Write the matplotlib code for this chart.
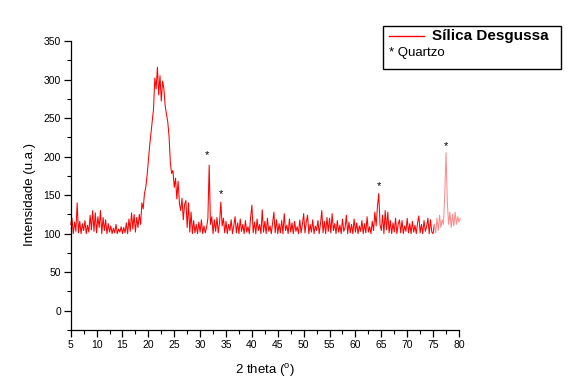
import numpy as np
import matplotlib
matplotlib.use("Agg")
import matplotlib.pyplot as plt
from matplotlib.lines import Line2D
from matplotlib.patches import Rectangle
from matplotlib.ticker import MultipleLocator

plt.rcParams['font.family'] = ['Liberation Sans', 'DejaVu Sans']

# 2-theta scan grid (degrees), step 0.25
theta_start, theta_step = 5.0, 0.25

intensity = [
    # 5.00 - 9.75
    112, 120, 100, 115, 103, 140, 101, 116, 100, 113, 104, 117, 100, 111, 102, 124, 105, 130, 103, 127,
    # 10.00 - 14.75
    101, 122, 108, 130, 100, 121, 104, 118, 100, 113, 102, 110, 100, 107, 101, 112, 100, 106, 102, 109,
    # 15.00 - 19.75
    100, 108, 101, 114, 100, 119, 103, 127, 106, 125, 102, 121, 108, 125, 112, 140, 132, 152, 160, 175,
    # 20.00 - 24.75
    195, 214, 230, 245, 262, 302, 288, 316, 280, 305, 272, 298, 288, 266, 255, 245, 226, 192, 178, 182,
    # 25.00 - 29.75
    160, 172, 145, 168, 139, 130, 146, 118, 138, 143, 108, 140, 102, 128, 100, 117, 101, 112, 100, 115,
    # 30.00 - 34.75
    102, 118, 100, 110, 101, 108, 120, 189, 112, 122, 100, 118, 103, 121, 101, 114, 141, 110, 120, 101,
    # 35.00 - 39.75
    116, 100, 112, 104, 118, 100, 110, 122, 101, 114, 100, 119, 103, 112, 100, 117, 102, 109, 100, 121,
    # 40.00 - 44.75
    137, 101, 115, 100, 119, 104, 112, 100, 131, 102, 116, 100, 120, 103, 110, 100, 114, 128, 101, 118,
    # 45.00 - 49.75
    100, 113, 101, 117, 100, 126, 104, 111, 100, 119, 102, 114, 100, 116, 103, 109, 100, 118, 101, 112,
    # 50.00 - 54.75
    126, 101, 115, 124, 100, 112, 102, 118, 100, 110, 104, 117, 100, 113, 130, 101, 116, 100, 121, 103,
    # 55.00 - 59.75
    120, 101, 126, 104, 113, 100, 117, 102, 111, 100, 119, 103, 108, 124, 100, 115, 101, 112, 100, 119,
    # 60.00 - 64.75
    102, 114, 100, 110, 103, 117, 100, 113, 101, 122, 102, 109, 100, 116, 104, 128, 110, 135, 152, 112,
    # 65.00 - 69.75
    104, 124, 100, 130, 105, 128, 101, 117, 100, 114, 102, 120, 100, 112, 118, 101, 117, 100, 110, 103,
    # 70.00 - 74.75
    120, 101, 113, 100, 116, 102, 111, 100, 114, 123, 101, 112, 100, 117, 103, 109, 120, 100, 118, 102,
    # 75.00 - 79.75
    100, 112, 101, 120, 104, 124, 108, 118, 112, 150, 205, 141, 112, 128, 108, 125, 110, 128, 112, 122,
    # 80.00 - 80.25
    115, 120,
]

# Quartz reflections marked with '*': (2theta, label height)
quartz_theta = [31.4, 34.0, 64.5, 77.5]
quartz_height = [202, 152, 162, 213]

x_ticks = [5, 10, 15, 20, 25, 30, 35, 40, 45, 50, 55, 60, 65, 70, 75, 80]
y_ticks = [0, 50, 100, 150, 200, 250, 300, 350]

series_label = "Sílica Desgussa"
marker_label = "* Quartzo"

two_theta = theta_start + theta_step * np.arange(len(intensity))
intensity = np.array(intensity, dtype=float)

fig = plt.figure(figsize=(5.79, 3.87), dpi=100)
ax = fig.add_axes([0.1221, 0.1473, 0.6706, 0.7468])

split = two_theta <= 75.25
ax.plot(two_theta[split], intensity[split], color='#ff0000', lw=0.75, clip_on=False)
idx = np.where(~split)[0]
idx = np.concatenate([[idx[0] - 1], idx])
ax.plot(two_theta[idx], intensity[idx], color='#ff8c8c', lw=0.75, clip_on=False)

for t, h in zip(quartz_theta, quartz_height):
    ax.text(t, h, '*', ha='center', va='center', fontsize=8, color='black')

ax.set_xlim(5, 80)
ax.set_ylim(-25, 350)
ax.set_xticks(x_ticks)
ax.set_yticks(y_ticks)
ax.xaxis.set_minor_locator(MultipleLocator(2.5))
ax.yaxis.set_minor_locator(MultipleLocator(25))
for s in ['top', 'right']:
    ax.spines[s].set_visible(False)
for s in ['left', 'bottom']:
    ax.spines[s].set_linewidth(0.9)
ax.tick_params(which='major', direction='out', length=5, width=0.9, labelsize=7.5, pad=2)
ax.tick_params(which='minor', direction='out', length=3, width=0.8)

ax.set_xlabel('2 theta ($^{\\mathregular{o}}$)', fontsize=9.5, labelpad=9)
ax.set_ylabel('Intensidade (u.a.)', fontsize=9.5)
ax.yaxis.set_label_coords(-0.089, 0.47)

# legend box
fig.patches.append(Rectangle((0.6615, 0.8217), 0.3074, 0.1111, transform=fig.transFigure,
                             facecolor='white', edgecolor='black', lw=1.0))
fig.lines.append(Line2D([0.6718, 0.7323], [0.907, 0.907], transform=fig.transFigure,
                        color='#ff0000', lw=1.0))
fig.text(0.746, 0.907, series_label, fontsize=11, fontweight='bold', va='center', ha='left')
fig.text(0.672, 0.863, marker_label, fontsize=9.5, va='center', ha='left')

fig.savefig('out.png', dpi=100)
